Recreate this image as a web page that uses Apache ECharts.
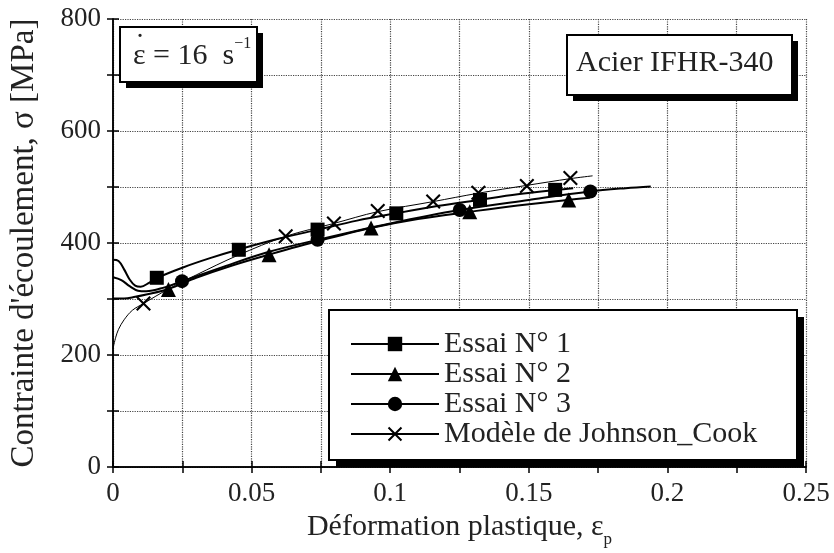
<!DOCTYPE html>
<html><head><meta charset="utf-8">
<script src="https://cdn.jsdelivr.net/npm/echarts@6/dist/echarts.min.js"></script>
<style>html,body{margin:0;padding:0;background:#fff}#c{width:834px;height:553px}</style>
</head><body><div id="c"></div>
<script>
const xTickLabels = ['0','0.05','0.1','0.15','0.2','0.25'];
const yTickLabels = ['0','200','400','600','800'];
const seriesNames = ['Essai N° 1','Essai N° 2','Essai N° 3','Modèle de Johnson_Cook'];

const essai1Curve = [[0,370],[0.002,368],[0.004,353],[0.006,335],[0.008,324],[0.010,322],[0.013,329],[0.016,338],[0.025,356],[0.035,373],[0.045,388],[0.06,408],[0.074,424],[0.088,440],[0.102,453],[0.117,466],[0.132,477],[0.146,487],[0.16,495],[0.166,498]];
const essai1Marks = [[0.0158,338],[0.0454,388],[0.0738,424],[0.1022,453],[0.1324,477],[0.1595,495]];

const essai2Curve = [[0,301],[0.004,301],[0.008,304],[0.012,308],[0.02,318],[0.03,338],[0.043,360],[0.056,379],[0.075,405],[0.093,427],[0.11,443],[0.129,456],[0.146,467],[0.164,477],[0.172,481]];
const essai2Marks = [[0.020,317],[0.0563,379],[0.0931,427],[0.1287,456],[0.1644,477]];

const essai3Curve = [[0,339],[0.003,334],[0.006,323],[0.009,315],[0.012,314],[0.018,320],[0.025,332],[0.04,358],[0.056,384],[0.074,406],[0.1,435],[0.125,459],[0.15,477],[0.172,492],[0.185,498],[0.194,501]];
const essai3Marks = [[0.0249,332],[0.0738,406],[0.1251,459],[0.1722,492]];

const jcCurve = [[0,212],[0.001,232],[0.002,246],[0.004,263],[0.007,280],[0.011,292],[0.02,318],[0.03,343],[0.045,378],[0.0623,412],[0.0797,435],[0.0955,456],[0.1155,474],[0.1318,489],[0.1493,503],[0.165,515],[0.173,520]];
const jcMarks = [[0.011,292],[0.0623,412],[0.0797,435],[0.0955,457],[0.1155,474],[0.1318,490],[0.1493,502],[0.165,516]];

const FONT = "'Liberation Serif', 'DejaVu Serif', serif";
const crossPath = 'path://M0,1 L1,0 L5,4 L9,0 L10,1 L6,5 L10,9 L9,10 L5,6 L1,10 L0,9 L4,5 Z';

function lineSeries(name, data, symbol, width) {
  return {
    name: name, type: 'line', data: data, symbol: symbol, showSymbol: false,
    smooth: 0.35, lineStyle: {color: '#000', width: width}, itemStyle: {color: '#000'},
    z: 2, silent: true
  };
}
function markSeries(name, data, symbol, size) {
  return {
    name: name, type: 'scatter', data: data, symbol: symbol, symbolSize: size,
    itemStyle: {color: '#000', opacity: 1}, z: 3, silent: true
  };
}

function box(x, y, w, h, off, z) {
  return [
    {type: 'rect', shape: {x: x + off, y: y + off, width: w, height: h}, style: {fill: '#000'}, z: z},
    {type: 'rect', shape: {x: x, y: y, width: w, height: h}, style: {fill: '#fff', stroke: '#000', lineWidth: 2}, z: z}
  ];
}

const chart = echarts.init(document.getElementById('c'));
const gridLine = {show: true, lineStyle: {type: 'dotted', color: '#444', width: 1.2}};
chart.setOption({
  animation: false,
  backgroundColor: '#fff',
  grid: {left: 112, right: 28, top: 19, bottom: 82, containLabel: false},
  xAxis: [
    {
      type: 'value', min: 0, max: 0.25, interval: 0.025, position: 'bottom',
      axisLine: {show: true, lineStyle: {color: '#000', width: 1.5}},
      axisTick: {show: true, inside: true, length: 6, lineStyle: {color: '#000', width: 1.5}},
      axisLabel: {margin: 13, fontFamily: FONT, fontSize: 27, color: '#222',
        formatter: v => { const k = Math.round(v / 0.025); return k % 2 === 0 ? xTickLabels[k / 2] : ''; }},
      splitLine: gridLine,
      name: 'Déformation plastique, ε{sub|p}', nameLocation: 'middle', nameGap: 36,
      nameTextStyle: {fontFamily: FONT, fontSize: 30, color: '#222',
        rich: {sub: {fontFamily: FONT, fontSize: 17, color: '#222', verticalAlign: 'bottom', lineHeight: 42}}}
    },
    {
      type: 'value', min: 0, max: 0.25, interval: 0.025, position: 'top',
      axisLine: {show: true, lineStyle: {color: '#000', width: 1.5}},
      axisTick: {show: true, inside: true, length: 6, lineStyle: {color: '#000', width: 1.5}},
      axisLabel: {show: false}, splitLine: {show: false}
    }
  ],
  yAxis: [
    {
      type: 'value', min: 0, max: 800, interval: 100, position: 'left',
      axisLine: {show: true, lineStyle: {color: '#000', width: 1.5}},
      axisTick: {show: true, inside: true, length: 6, lineStyle: {color: '#000', width: 1.5}},
      axisLabel: {margin: 12, fontFamily: FONT, fontSize: 27, color: '#222',
        formatter: v => (v % 200 === 0 ? yTickLabels[v / 200] : '')},
      splitLine: gridLine,
      name: 'Contrainte d\'écoulement, σ [MPa]', nameLocation: 'middle', nameGap: 72, nameRotate: 90,
      nameTextStyle: {fontFamily: FONT, fontSize: 33, color: '#222'}
    },
    {
      type: 'value', min: 0, max: 800, interval: 100, position: 'right',
      axisLine: {show: true, lineStyle: {color: '#000', width: 1.5}},
      axisTick: {show: true, inside: true, length: 6, lineStyle: {color: '#000', width: 1.5}},
      axisLabel: {show: false}, splitLine: {show: false}
    }
  ],
  legend: {
    data: seriesNames, orient: 'vertical', left: 350, top: 329, padding: 0,
    itemWidth: 88, itemHeight: 18, itemGap: 0, selectedMode: false,
    textStyle: {fontFamily: FONT, fontSize: 30, color: '#222', lineHeight: 28.5},
    z: 10
  },
  graphic: [].concat(
    box(120, 27, 137, 55, 6, 5),
    [{type: 'text', left: 133, top: 36, z: 6,
      style: {text: '{a|ε = 16  s}{b|−1}', rich: {
        a: {fontFamily: FONT, fontSize: 30, fill: '#222'},
        b: {fontFamily: FONT, fontSize: 16, fill: '#222', verticalAlign: 'top', lineHeight: 40}
      }}},
     {type: 'text', left: 135, top: 31, z: 6,
      style: {text: '˙', font: '30px ' + FONT, fill: '#222'}}],
    box(567, 35, 225, 60, 6, 5),
    [{type: 'text', left: 576, top: 48, z: 6,
      style: {text: 'Acier IFHR-340', font: '30px ' + FONT, fill: '#222'}}],
    box(329, 310, 468, 150, 7, 5)
  ),
  series: [
    lineSeries(seriesNames[0], essai1Curve, 'rect', 2),
    lineSeries(seriesNames[1], essai2Curve, 'triangle', 2),
    lineSeries(seriesNames[2], essai3Curve, 'circle', 2),
    lineSeries(seriesNames[3], jcCurve, crossPath, 1),
    markSeries(seriesNames[0], essai1Marks, 'rect', 14),
    markSeries(seriesNames[1], essai2Marks, 'triangle', 15),
    markSeries(seriesNames[2], essai3Marks, 'circle', 14),
    markSeries(seriesNames[3], jcMarks, crossPath, 15)
  ]
});
</script></body></html>
